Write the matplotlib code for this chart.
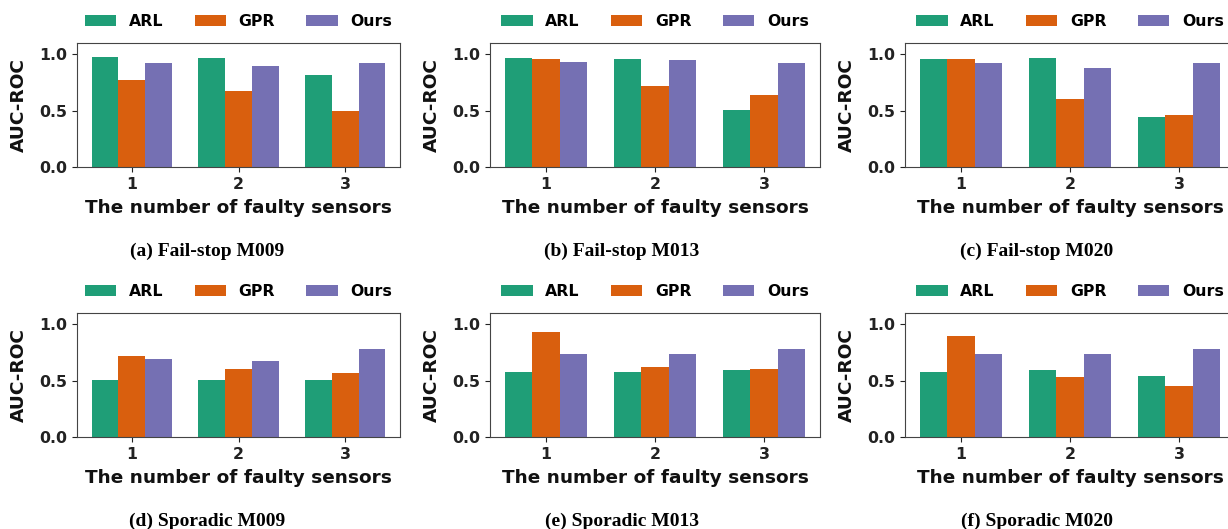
"""
故障センサ数ごとのAUC-ROC比較 — Fail-stop / Sporadic × 3データセット
"""

import matplotlib
matplotlib.use('Agg')
import matplotlib.pyplot as plt
import numpy as np

# 横軸（故障センサ数）と手法
categories = [1, 2, 3]
methods = ['ARL', 'GPR', 'Ours']
colors = ['#1f9e77', '#d95f0e', '#7570b3']

# 各パネルの値（ARL, GPR, Ours の順）
failstop_m009 = [[0.98, 0.97, 0.82], [0.77, 0.675, 0.495], [0.925, 0.90, 0.925]]
failstop_m013 = [[0.97, 0.96, 0.505], [0.96, 0.72, 0.635], [0.935, 0.945, 0.925]]
failstop_m020 = [[0.96, 0.97, 0.447], [0.96, 0.60, 0.46], [0.925, 0.875, 0.925]]
sporadic_m009 = [[0.505, 0.505, 0.505], [0.72, 0.60, 0.565], [0.695, 0.675, 0.78]]
sporadic_m013 = [[0.578, 0.578, 0.59], [0.935, 0.625, 0.60], [0.733, 0.733, 0.78]]
sporadic_m020 = [[0.578, 0.59, 0.543], [0.90, 0.53, 0.448], [0.733, 0.733, 0.78]]

captions = ['(a) Fail-stop M009', '(b) Fail-stop M013', '(c) Fail-stop M020',
            '(d) Sporadic M009', '(e) Sporadic M013', '(f) Sporadic M020']
panels = [failstop_m009, failstop_m013, failstop_m020,
          sporadic_m009, sporadic_m013, sporadic_m020]

W, H = 1228, 529
fig = plt.figure(figsize=(W / 100, H / 100), dpi=100)

# ピクセル座標でのレイアウト
col_left = [77, 490, 905]
col_right = [400, 820, 1235]
row_top = [43, 313]
row_bottom = [167, 437]
cap_x = [207, 622, 1037]
cap_y = [251, 521]

TICK_FS = 11.3
LABEL_FS = 13.3
width = 0.25
x = np.arange(len(categories)) + 1

for i, (vals, cap) in enumerate(zip(panels, captions)):
    r, c = divmod(i, 3)
    l, rt = col_left[c], col_right[c]
    t, b = row_top[r], row_bottom[r]
    ax = fig.add_axes([l / W, 1 - b / H, (rt - l) / W, (b - t) / H])

    for k, (name, col) in enumerate(zip(methods, colors)):
        ax.bar(x + (k - 1) * width, vals[k], width, color=col, label=name)

    ax.set_ylim(0, 1.1)
    ax.set_yticks([0.0, 0.5, 1.0])
    ax.set_xticks(x)
    ax.set_xticklabels([str(v) for v in categories])
    ax.tick_params(labelsize=TICK_FS, colors='#222222')
    for lab in ax.get_xticklabels() + ax.get_yticklabels():
        lab.set_fontweight('bold')
    ax.set_xlabel('The number of faulty sensors', fontsize=LABEL_FS,
                  fontweight='bold', labelpad=5, color='#111111')
    ax.set_ylabel('AUC-ROC', fontsize=LABEL_FS, fontweight='bold',
                  labelpad=8, color='#111111')
    for sp in ax.spines.values():
        sp.set_color('#444444')

    ax.legend(ncol=3, loc='lower center', bbox_to_anchor=(0.5, 1.0),
              frameon=False, prop={'size': TICK_FS, 'weight': 'bold'})

    fig.text(cap_x[c] / W, 1 - cap_y[r] / H, cap, ha='center', va='center',
             fontsize=14, fontweight='bold', family='Liberation Serif')

fig.savefig('out.png', dpi=100)
plt.close(fig)
